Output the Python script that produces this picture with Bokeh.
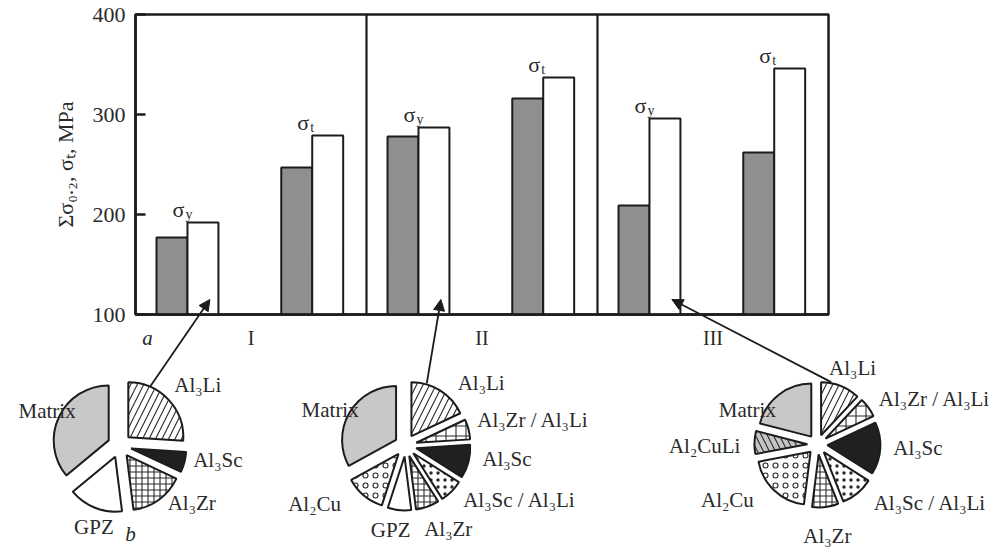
import math
from bokeh.plotting import figure
from bokeh.models import (ColumnDataSource, LinearAxis, FixedTicker, Range1d,
                          Arrow, NormalHead)
from bokeh.core.properties import value
from bokeh.embed import file_html
from bokeh.resources import INLINE

# ------------------------------------------------------------------ data
sections = ["I", "II", "III"]
yield_calc = [177, 278, 209]      # grey bars (yield pair)
yield_exp = [192, 287, 296]       # white bars (yield pair, sigma_y)
tensile_calc = [247, 316, 262]    # grey bars (tensile pair)
tensile_exp = [279, 337, 346]     # white bars (tensile pair, sigma_t)
y_ticks = [100, 200, 300, 400]
y_label = "Σσ₀.₂, σₜ, MPa"

pie1_phases = ["Al₃Li", "Al₃Sc", "Al₃Zr", "GPZ", "Matrix"]
pie1_shares = [26, 6, 16, 16, 36]
pie2_phases = ["Al₃Li", "Al₃Zr / Al₃Li", "Al₃Sc", "Al₃Sc / Al₃Li", "Al₃Zr",
               "GPZ", "Al₂Cu", "Matrix"]
pie2_shares = [18, 6, 10, 7, 7, 7, 12, 33]
pie3_phases = ["Al₃Li", "Al₃Zr / Al₃Li", "Al₃Sc", "Al₃Sc / Al₃Li", "Al₃Zr",
               "Al₂Cu", "Al₂CuLi", "Matrix"]
pie3_shares = [12, 6, 16, 10, 8, 20, 7, 21]

# ------------------------------------------------------------------ styles / layout
FONT = "Liberation Serif"
INK = "#1c1c1c"
TXT = "#2a2a2a"
GREY_BAR = "#8f8f8f"

PHASE_STYLE = {
    "Matrix":        dict(fill="#c8c8c8", hatch=" ", scale=10),
    "Al₃Li":         dict(fill="white",   hatch="/", scale=13),
    "Al₃Zr / Al₃Li": dict(fill="white",   hatch="+", scale=10),
    "Al₃Sc":         dict(fill="#202020", hatch=" ", scale=10),
    "Al₃Sc / Al₃Li": dict(fill="white",   hatch=".", scale=7),
    "Al₃Zr":         dict(fill="white",   hatch="+", scale=6),
    "GPZ":           dict(fill="white",   hatch=" ", scale=10),
    "Al₂Cu":         dict(fill="white",   hatch="o", scale=10),
    "Al₂CuLi":       dict(fill="#c4c4c4", hatch="\\", scale=12),
}

W, H = 1002, 549
PX_X = 231.0          # pixels per section
PX_Y = 1.0            # pixels per MPa
X0 = -135 / PX_X
X1 = X0 + W / PX_X
Y1 = 400 + 14 / PX_Y
Y0 = Y1 - H / PX_Y

OFF_YC, OFF_YE, OFF_TC, OFF_TE = 0.158, 0.292, 0.698, 0.832
BAR_W = 0.134

PIES = [
    dict(phases=pie1_phases, shares=pie1_shares, cx=-0.069, cy=-31, r=55, e=12,
         nudge={"Al₃Li": (0, -9), "Al₃Sc": (1, -4), "Al₃Zr": (4, -3),
                "GPZ": (2, 0), "Matrix": (24, -3)}),
    dict(phases=pie2_phases, shares=pie2_shares, cx=1.169, cy=-31, r=54, e=11,
         nudge={"Al₃Li": (13, -1), "Al₃Zr / Al₃Li": (1, -7), "Al₃Sc": (6, -5),
                "Al₃Sc / Al₃Li": (6, 3), "Al₃Zr": (18, 3), "GPZ": (-8, 0),
                "Al₂Cu": (-18, 2), "Matrix": (16, 2)}),
    dict(phases=pie3_phases, shares=pie3_shares, cx=2.952, cy=-30, r=53, e=10,
         nudge={"Al₃Li": (9, 2), "Al₃Zr / Al₃Li": (4, -4), "Al₃Sc": (5, -1),
                "Al₃Sc / Al₃Li": (11, 4), "Al₃Zr": (1, 9), "Al₂Cu": (-15, 4),
                "Al₂CuLi": (-6, 4), "Matrix": (2, 22)}),
]

p = figure(width=W, height=H, x_range=Range1d(X0, X1), y_range=Range1d(Y0, Y1),
           x_axis_type=None, y_axis_type=None, toolbar_location=None,
           output_backend="svg", min_border=0)
p.outline_line_color = None
p.background_fill_color = "white"

n = len(sections)
# frame and section dividers
p.quad(left=[0], right=[n], bottom=[y_ticks[0]], top=[y_ticks[-1]],
       fill_color=None, line_color=INK, line_width=2.5)
p.segment(x0=list(range(1, n)), y0=[y_ticks[0]] * (n - 1),
          x1=list(range(1, n)), y1=[y_ticks[-1]] * (n - 1),
          line_color=INK, line_width=2.2)

# bars
idx = list(range(n))
def bars(vals, off, color):
    p.vbar(x=[i + off for i in idx], width=BAR_W, bottom=y_ticks[0], top=vals,
           fill_color=color, line_color=INK, line_width=2)
bars(yield_calc, OFF_YC, GREY_BAR)
bars(yield_exp, OFF_YE, "white")
bars(tensile_calc, OFF_TC, GREY_BAR)
bars(tensile_exp, OFF_TE, "white")

# sigma labels above each pair
sx, sy, sub = [], [], []
for i in idx:
    sx.append(i + (OFF_YC + OFF_YE) / 2); sy.append(max(yield_calc[i], yield_exp[i]) + 13); sub.append("y")
    sx.append(i + (OFF_TC + OFF_TE) / 2); sy.append(max(tensile_calc[i], tensile_exp[i]) + 13); sub.append("t")
p.text(x=sx, y=sy, text=["σ"] * len(sx), text_align="right", text_baseline="alphabetic",
       x_offset=-3, text_font=value(FONT), text_font_size="22px", text_color=TXT)
p.text(x=sx, y=sy, text=sub, text_align="left", text_baseline="alphabetic",
       x_offset=-2, y_offset=5, text_font=value(FONT), text_font_size="14px", text_color=TXT)

# axes
yaxis = LinearAxis(fixed_location=0, bounds=(y_ticks[0], y_ticks[-1]),
                   ticker=FixedTicker(ticks=y_ticks, minor_ticks=[]),
                   axis_label=y_label)
xaxis = LinearAxis(fixed_location=y_ticks[0], bounds=(0, n),
                   ticker=FixedTicker(ticks=[i + 0.5 for i in idx], minor_ticks=[]),
                   major_label_overrides={i + 0.5: s for i, s in zip(idx, sections)})
for ax in (yaxis, xaxis):
    ax.axis_line_color = INK
    ax.axis_line_width = 2.5
    ax.major_tick_line_color = INK
    ax.major_tick_line_width = 2.5
    ax.minor_tick_line_color = None
    ax.major_tick_out = 0
    ax.major_label_text_font = FONT
    ax.major_label_text_font_size = "22px"
    ax.major_label_text_color = TXT
yaxis.major_tick_in = 10
yaxis.major_label_standoff = 10
yaxis.axis_label_text_font = FONT
yaxis.axis_label_text_font_size = "22px"
yaxis.axis_label_text_font_style = "normal"
yaxis.axis_label_text_color = TXT
yaxis.axis_label_standoff = 12
xaxis.major_tick_in = 0
xaxis.major_label_standoff = 12
xaxis.major_label_text_font_size = "20px"
p.add_layout(yaxis, "left")
p.add_layout(xaxis, "below")

# pies
for k, pie in enumerate(PIES):
    cum = 0.0
    rows = dict(x=[], y=[], start=[], end=[], fill=[], hatch=[], scale=[])
    lab = dict(x=[], y=[], text=[], align=[], base=[], dx=[], dy=[])
    geo = []
    for ph, sh in zip(pie["phases"], pie["shares"]):
        a_end = 90 - 3.6 * cum
        cum += sh
        a_start = 90 - 3.6 * cum
        bis = math.radians((a_start + a_end) / 2)
        wx = pie["cx"] + pie["e"] * math.cos(bis) / PX_X
        wy = pie["cy"] + pie["e"] * math.sin(bis) / PX_Y
        st = PHASE_STYLE[ph]
        rows["x"].append(wx); rows["y"].append(wy)
        rows["start"].append(math.radians(a_start)); rows["end"].append(math.radians(a_end))
        rows["fill"].append(st["fill"]); rows["hatch"].append(st["hatch"]); rows["scale"].append(st["scale"])
        geo.append((wx, wy, bis))
        d = pie["r"] + pie["e"] + 8
        c, s = math.cos(bis), math.sin(bis)
        if c > 0.4:
            al, bl = "left", "middle"
        elif c < -0.4:
            al, bl = "right", "middle"
        else:
            al, bl = "center", ("top" if s < 0 else "bottom")
        nx, ny = pie["nudge"].get(ph, (0, 0))
        lab["x"].append(pie["cx"] + d * c / PX_X); lab["y"].append(pie["cy"] + d * s / PX_Y)
        lab["text"].append(ph); lab["align"].append(al); lab["base"].append(bl)
        lab["dx"].append(nx); lab["dy"].append(ny)
    src = ColumnDataSource(rows)
    p.wedge(x="x", y="y", radius=pie["r"], radius_units="screen",
            start_angle="start", end_angle="end", direction="anticlock",
            fill_color="fill", hatch_pattern="hatch", hatch_scale="scale",
            hatch_color="#2a2a2a", hatch_weight=1.1,
            line_color=INK, line_width=2, source=src)
    p.text(x="x", y="y", text="text", text_align="align", text_baseline="base",
           x_offset="dx", y_offset="dy", text_font=value(FONT),
           text_font_size="21px", text_color=TXT, source=ColumnDataSource(lab))
    # arrow from Al3Li wedge to the sigma_y bar of its section
    wx, wy, bis = geo[0]
    ang = (bis + math.pi / 2) / 2
    xs = wx + (pie["r"] + 1) * math.cos(ang) / PX_X
    ys = wy + (pie["r"] + 1) * math.sin(ang) / PX_Y
    p.add_layout(Arrow(end=NormalHead(size=11, fill_color=INK, line_color=INK),
                       x_start=xs, y_start=ys, x_end=k + OFF_YE + 0.03, y_end=115,
                       line_color=INK, line_width=1.8))

# panel letters
p.text(x=[0.052], y=[77], text=["a"], text_align="center", text_baseline="middle",
       text_font=value(FONT), text_font_style="italic", text_font_size="21px", text_color=TXT)
p.text(x=[-0.022], y=[-119], text=["b"], text_align="center", text_baseline="alphabetic",
       text_font=value(FONT), text_font_style="italic", text_font_size="21px", text_color=TXT)

open("out.html", "w").write(file_html(p, INLINE))
